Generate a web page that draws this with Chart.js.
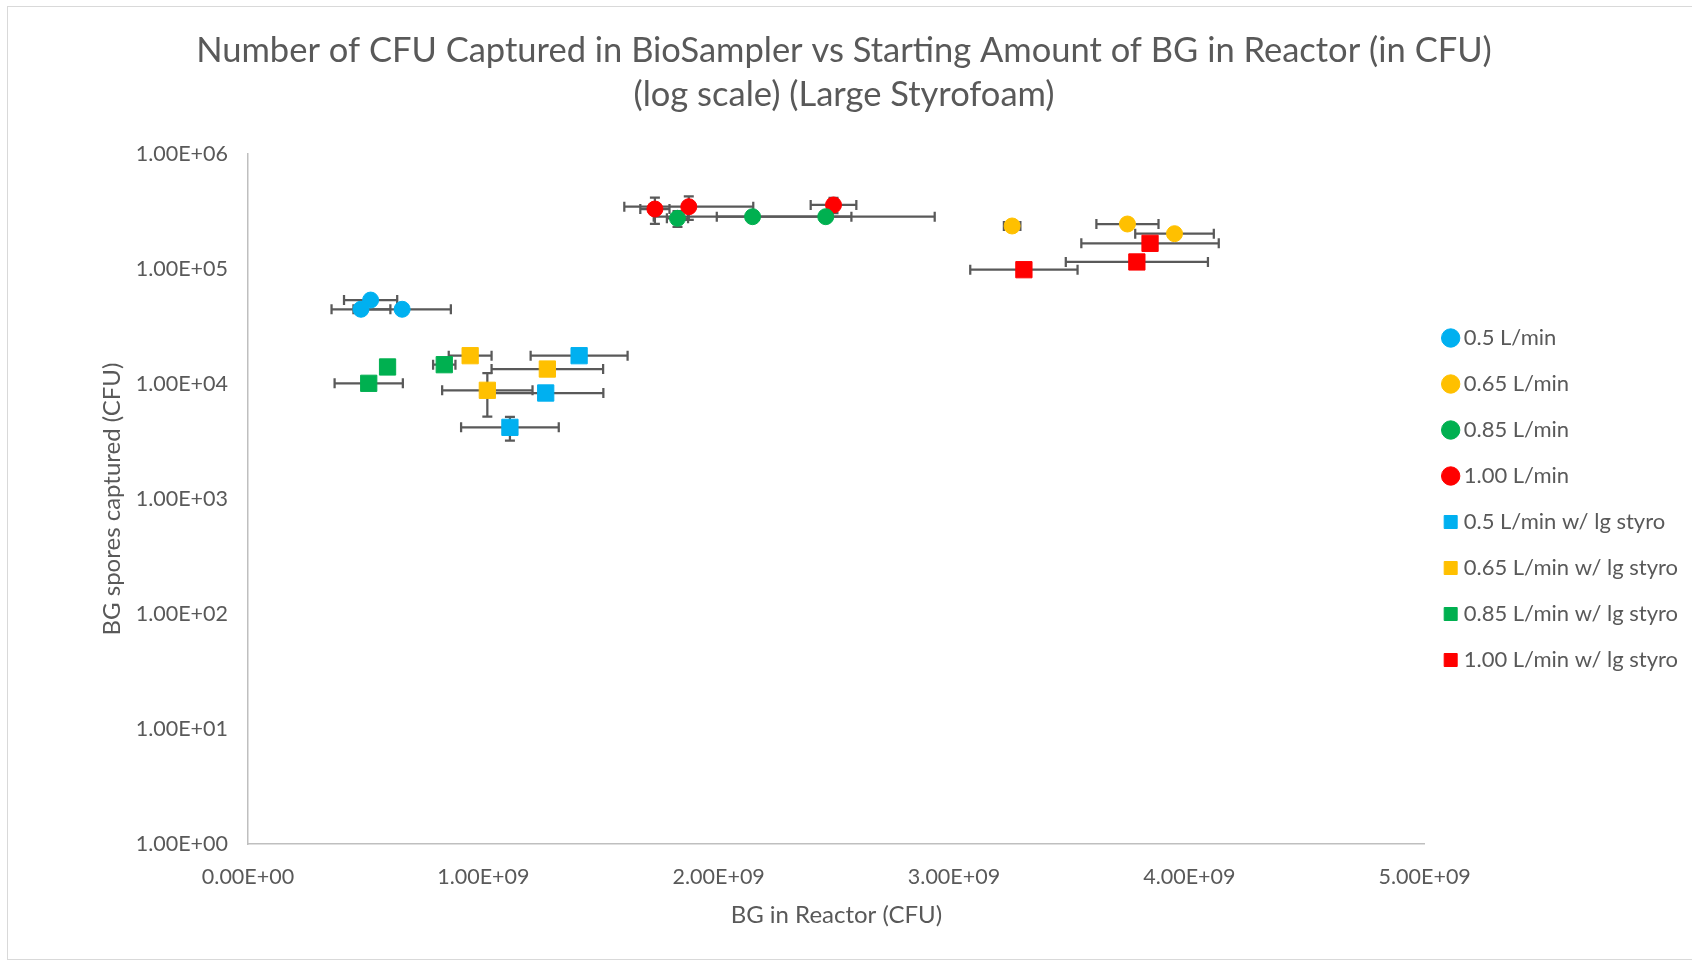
<!DOCTYPE html>
<html>
<head>
<meta charset="utf-8">
<title>CFU captured vs BG in reactor</title>
<script src="https://cdn.jsdelivr.net/npm/chart.js@4.4.0/dist/chart.umd.min.js"></script>
<style>
  html, body { margin: 0; padding: 0; background: #fff; }
  #wrap { position: absolute; left: 0; top: 0; width: 1692px; height: 961px; }
  #frame { position: absolute; left: 7px; top: 6px; width: 1720px; height: 952px;
           border: 1px solid #d9d9d9; pointer-events: none; }
</style>
</head>
<body>
<div id="wrap"><canvas id="chart"></canvas></div>
<div id="frame"></div>
<script>
// series: x = BG in reactor (CFU), y = spores captured (CFU), with +/- errors
const labels = ['0.5 L/min', '0.65 L/min', '0.85 L/min', '1.00 L/min',
  '0.5 L/min w/ lg styro', '0.65 L/min w/ lg styro', '0.85 L/min w/ lg styro', '1.00 L/min w/ lg styro'];
const colors = ['#00B0F0', '#FFC000', '#00B050', '#FF0000', '#00B0F0', '#FFC000', '#00B050', '#FF0000'];
const styles = ['circle', 'circle', 'circle', 'circle', 'rect', 'rect', 'rect', 'rect'];

const xVals = [
  [5.21e8, 4.80e8, 6.55e8],
  [3.247e9, 3.737e9, 3.937e9],
  [1.825e9, 2.144e9, 2.455e9],
  [1.729e9, 1.873e9, 2.488e9],
  [1.407e9, 1.265e9, 1.113e9],
  [9.44e8, 1.272e9, 1.017e9],
  [5.93e8, 5.13e8, 8.34e8],
  [3.833e9, 3.777e9, 3.297e9]
];
const yVals = [
  [53700, 44650, 44650],
  [236600, 246200, 202800],
  [276000, 285000, 285000],
  [332400, 348000, 360400],
  [17630, 8350, 4200],
  [17630, 13500, 8815],
  [14060, 10140, 14720],
  [167200, 115100, 98600]
];
const xErrs = [
  [1.13e8, 1.25e8, 2.07e8],
  [3.5e7, 1.32e8, 1.67e8],
  [4.5e7, 4.2e8, 4.63e8],
  [6.2e7, 2.74e8, 9.7e7],
  [2.06e8, 2.45e8, 2.075e8],
  [9.1e7, 2.37e8, 1.92e8],
  [0, 1.45e8, 4.75e7],
  [2.92e8, 3.02e8, 2.28e8]
];
const yErrs = [
  [0, 0, 0],
  [0, 0, 0],
  [43000, 0, 0],
  [85000, 80000, 55000],
  [0, 0, 975],
  [0, 0, 3600],
  [0, 0, 0],
  [0, 0, 0]
];
const xTickMax = 5e9;
const yTicks = [1, 10, 100, 1000, 10000, 100000, 1000000];

function sci(v) {
  const [m, e] = Number(v).toExponential(2).split('e');
  const sign = e[0] === '-' ? '-' : '+';
  return m + 'E' + sign + e.replace(/^[+-]/, '').padStart(2, '0');
}

const grey = '#595959';
const axisGrey = '#bfbfbf';
const fontFam = 'Lato, "Open Sans", sans-serif';

// draws x / y error bars from each dataset's xErr / yErr
const errorBars = {
  id: 'errorBars',
  beforeDatasetsDraw(chart) {
    const {ctx, scales: {x, y}} = chart;
    const cap = 5;
    ctx.save();
    ctx.strokeStyle = grey;
    ctx.lineWidth = 2.25;
    chart.data.datasets.forEach((ds, di) => {
      if (!chart.isDatasetVisible(di)) return;
      ds.data.forEach((p, i) => {
        const px = x.getPixelForValue(p.x);
        const py = y.getPixelForValue(p.y);
        const ex = ds.xErr[i], ey = ds.yErr[i];
        ctx.beginPath();
        if (ex) {
          const l = x.getPixelForValue(p.x - ex), r = x.getPixelForValue(p.x + ex);
          ctx.moveTo(l, py); ctx.lineTo(r, py);
          ctx.moveTo(l, py - cap); ctx.lineTo(l, py + cap);
          ctx.moveTo(r, py - cap); ctx.lineTo(r, py + cap);
        }
        if (ey) {
          const t = y.getPixelForValue(p.y + ey), b = y.getPixelForValue(p.y - ey);
          ctx.moveTo(px, t); ctx.lineTo(px, b);
          ctx.moveTo(px - cap, t); ctx.lineTo(px + cap, t);
          ctx.moveTo(px - cap, b); ctx.lineTo(px + cap, b);
        }
        ctx.stroke();
      });
    });
    ctx.restore();
  }
};

const datasets = labels.map((label, k) => ({
  label,
  data: xVals[k].map((x, i) => ({x, y: yVals[k][i]})),
  xErr: xErrs[k],
  yErr: yErrs[k],
  pointStyle: styles[k],
  pointRadius: styles[k] === 'circle' ? 8 : 11.5,
  backgroundColor: colors[k],
  borderColor: colors[k],
  borderWidth: 1,
  showLine: false
}));

const ctx = document.getElementById('chart').getContext('2d');
const chart = new Chart(ctx, {
  type: 'scatter',
  data: { datasets },
  plugins: [errorBars],
  options: {
    responsive: true,
    maintainAspectRatio: false,
    animation: false,
    events: [],
    layout: { padding: { top: 0, left: 0, right: 4, bottom: 0 } },
    plugins: {
      title: {
        display: true,
        text: ['Number of CFU Captured in BioSampler vs Starting Amount of BG in Reactor (in CFU)',
               '(log scale) (Large Styrofoam)'],
        color: grey,
        font: { family: fontFam, size: 34.5, weight: 'normal', lineHeight: '44px' },
        padding: { top: 29, bottom: 37 }
      },
      legend: {
        position: 'right',
        align: 'center',
        fullSize: false,
        labels: {
          usePointStyle: true,
          boxWidth: 4,
          boxHeight: 13,
          padding: 24,
          color: grey,
          font: { family: fontFam, size: 22 }
        }
      },
      tooltip: { enabled: false }
    },
    scales: {
      x: {
        type: 'linear',
        min: 0,
        max: xTickMax,
        afterFit: s => { s.height = 117; },
        grid: { display: false, drawTicks: false },
        border: { display: true, color: axisGrey, width: 1.5 },
        ticks: { stepSize: 1e9, padding: 20, color: grey, font: { family: fontFam, size: 21.5 },
                 callback: v => sci(v) },
        title: { display: true, text: 'BG in Reactor (CFU)', color: grey,
                 font: { family: fontFam, size: 24 }, padding: { top: 0, bottom: 31.5 } }
      },
      y: {
        type: 'logarithmic',
        min: 1,
        max: 1e6,
        afterBuildTicks: s => { s.ticks = yTicks.map(v => ({value: v})); },
        afterFit: s => { s.width = 248; },
        grid: { display: false, drawTicks: false },
        border: { display: true, color: axisGrey, width: 1.5 },
        ticks: { padding: 20, color: grey, font: { family: fontFam, size: 21.5 },
                 callback: v => sci(v) },
        title: { display: true, text: 'BG spores captured (CFU)', color: grey,
                 font: { family: fontFam, size: 24 }, padding: { top: 97.5, bottom: 0 } }
      }
    }
  }
});
</script>
</body>
</html>
